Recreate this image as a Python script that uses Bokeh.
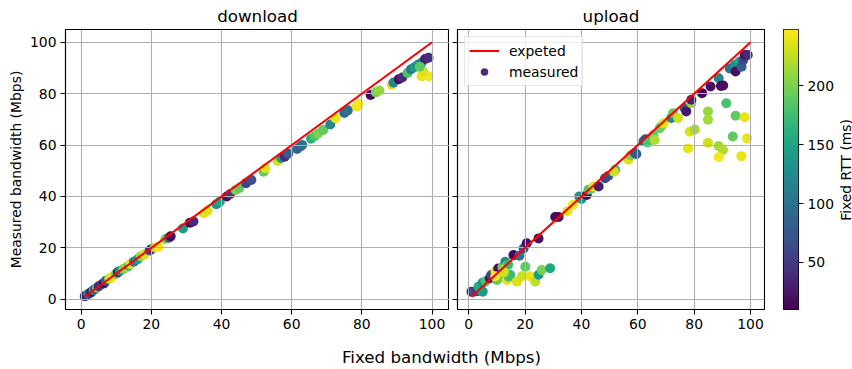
import numpy as np
from bokeh.plotting import figure
from bokeh.models import (Range1d, FixedTicker, LinearColorMapper, ColumnDataSource,
                          Label, Legend, LegendItem)
from bokeh.layouts import row, column
from bokeh.palettes import Viridis256
from bokeh.embed import file_html
from bokeh.resources import INLINE

# ---------------- data ----------------
dl_bandwidth = [1, 1.5, 2, 2.5, 3, 3.5, 4, 4.5, 5, 6, 6.5, 7, 8, 9, 10, 10.5, 11, 12, 13, 13.5,
                14, 15, 16, 17, 18, 19.5, 20, 21, 22, 24, 25, 25.5, 29, 31, 32, 35, 36, 38.5, 39.5, 41.5,
                42.5, 44, 45, 47, 48.5, 52, 52.5, 56, 57, 58, 59, 61.5, 62.5, 63, 65.5, 66.5, 67.5, 69, 71, 72.5,
                75, 76, 78.5, 79, 82.5, 84, 85, 88.5, 89, 90.5, 91.5, 93, 94, 95, 96, 97, 98, 99,
                97, 99, 97.5, 96.5]
dl_measured = [1.2, 1.5, 2.2, 2.4, 3, 3.6, 4, 4.5, 5.1, 6, 6.3, 7.2, 8, 8.9, 10, 10.6, 11, 11.8, 12.6, 13,
               13.8, 14.6, 15.5, 16.8, 17.5, 19, 19.5, 20.2, 20.5, 23.5, 24, 24.5, 27.6, 29.8, 30.3, 33.5, 34.5, 37, 38, 40,
               41, 42.5, 43.2, 45.2, 46.4, 49.6, 51, 53.8, 55, 55.5, 56.6, 58.5, 59.5, 60, 62.5, 63.4, 64.5, 65.9, 68, 70.4,
               72.5, 73.5, 75, 76, 79.5, 80.5, 81.2, 83.5, 84.3, 85.6, 86.3, 88, 89.5, 90.3, 91.2, 92, 93.5, 94,
               86.8, 86.8, 88.5, 90.5]
dl_rtt = [50, 30, 130, 60, 20, 150, 70, 190, 40, 60, 15, 90, 230, 240, 180, 20, 130, 200, 220, 170,
          240, 110, 140, 210, 235, 70, 40, 230, 245, 200, 80, 20, 140, 15, 40, 240, 235, 130, 150, 20,
          50, 200, 190, 60, 70, 190, 235, 230, 140, 40, 80, 90, 80, 100, 160, 180, 200, 190, 120, 240,
          90, 100, 240, 245, 15, 200, 210, 240, 120, 20, 40, 180, 110, 140, 130, 110, 30, 40,
          240, 245, 235, 190]

ul_bandwidth = [1, 2, 3, 4, 5, 3.5, 5, 6, 7.5, 8, 9.5, 10.5, 12, 13, 13.5, 14, 15.9, 18, 19.5, 20.6,
                24.8, 30.7, 31.9, 35, 37, 39.2, 40, 41.9, 42.5, 43.5, 44.3, 46.1, 48.4, 49.5, 52, 51.5, 56.7, 57.5,
                59, 59.5, 62, 62.8, 63.5, 65.5, 66, 67.8, 68.5, 69.2, 71.9, 72.5, 74.3, 76.6, 77.2, 79, 79,
                82.8, 85.8, 88.7, 89.5, 90.3, 92.6, 94.4, 94.7, 96.1, 96.8, 97.4, 98, 99,
                91.4, 84.9, 84.9, 94.7, 97.9, 78.4, 80.2, 93.7, 84.9, 88.7, 90.2, 77.8, 88.7, 98.8, 96.7,
                10, 11.2, 13.6, 14.2, 14.8, 17.1, 18.9, 20.1, 21.8, 23.6, 24.8, 25.9, 28.9, 9.5, 12.5]
ul_measured = [3, 3, 3.2, 3.5, 3, 5, 6.5, 7, 8.2, 9.5, 10.8, 12, 12.5, 14.6, 13, 13.5, 17.2, 17, 19.8, 21.8,
               23.7, 32, 32, 34.3, 36.8, 40, 39, 40.6, 42.6, 43, 43.9, 43.9, 47.1, 48, 50.4, 49.6, 54.3, 56,
               56.9, 56.5, 61.5, 62.3, 61, 63.8, 62, 66.6, 67.5, 68.6, 70.5, 72.4, 70.5, 74.3, 73.1, 76.3, 77.6,
               80.2, 82.8, 86, 83, 83.2, 89.8, 91.1, 88.6, 92.4, 90.5, 93.1, 95, 95,
               76.3, 73.1, 69.9, 71.4, 70.8, 65.2, 66.1, 63.3, 60.9, 59.6, 58.1, 58.7, 55.3, 62.6, 55.7,
               7.5, 8.9, 7.5, 8.8, 9.5, 6.9, 9, 12.7, 9, 6.9, 9.6, 11.4, 12.1, 9, 10.5]
ul_rtt = [40, 70, 50, 120, 140, 160, 130, 180, 20, 60, 240, 20, 200, 120, 240, 170, 15, 100, 70, 20,
          20, 20, 15, 240, 245, 130, 140, 20, 180, 190, 240, 30, 60, 70, 180, 230, 235, 200,
          60, 80, 90, 70, 180, 190, 220, 190, 200, 240, 120, 190, 230, 80, 25, 210, 30,
          15, 20, 120, 15, 20, 100, 130, 20, 150, 80, 60, 20, 40,
          180, 210, 215, 190, 240, 235, 215, 190, 230, 215, 220, 240, 245, 240, 240,
          190, 190, 240, 180, 170, 235, 230, 190, 240, 225, 140, 200, 150, 245, 230]

expected_x = [1, 100]
expected_y = [1, 100]
bw_ticks = [0, 20, 40, 60, 80, 100]
rtt_ticks = [50, 100, 150, 200]
rtt_low, rtt_high = 10, 248

# ---------------- style ----------------
FONT = "DejaVu Sans"
TICK_FS = "13.9px"
TITLE_FS = "16.7px"
mapper = LinearColorMapper(palette=Viridis256, low=rtt_low, high=rtt_high)
y_rng = (-3.95, 104.95)
TOP, FH, BOTTOM = 29, 280, 28
FIG_H = TOP + FH + BOTTOM


def style_axes(p, show_ylabels=True):
    p.outline_line_color = "black"
    p.outline_line_width = 1.1
    p.outline_line_alpha = 1
    for ax in p.axis:
        ax.ticker = FixedTicker(ticks=bw_ticks)
        ax.axis_line_color = "black"
        ax.axis_line_width = 1.1
        ax.major_tick_line_color = "black"
        ax.major_tick_line_width = 1.1
        ax.major_tick_out = 5
        ax.major_tick_in = 0
        ax.minor_tick_line_color = None
        ax.major_label_text_font = FONT
        ax.major_label_text_font_size = TICK_FS
        ax.major_label_text_color = "black"
        ax.major_label_standoff = 4
    if not show_ylabels:
        p.yaxis.major_label_overrides = {t: "" for t in bw_ticks}
        p.yaxis.major_label_standoff = 0
    p.grid.grid_line_color = "#b0b0b0"
    p.grid.grid_line_width = 1.1
    p.grid.level = "underlay"
    p.title.align = "center"
    p.title.text_font = FONT
    p.title.text_font_size = TITLE_FS
    p.title.text_font_style = "normal"
    p.title.text_color = "black"
    p.title.standoff = 7


def panel(title, xr, fw, bl, br, bw, meas, rtt, show_ylabels):
    p = figure(title=title, frame_width=fw, frame_height=FH,
               min_border_left=bl, min_border_right=br, min_border_top=TOP, min_border_bottom=BOTTOM,
               x_range=Range1d(*xr), y_range=Range1d(*y_rng),
               toolbar_location=None, output_backend="svg")
    style_axes(p, show_ylabels)
    src = ColumnDataSource(dict(x=bw, y=meas, rtt=rtt))
    sc = p.scatter(x="x", y="y", source=src, size=10,
                   fill_color={"field": "rtt", "transform": mapper}, line_color=None)
    sc.level = "image"
    ln = p.line(expected_x, expected_y, line_color="red", line_width=2.1)
    return p, sc, ln


p1, _, _ = panel("download", (-4.475, 104.975), 384, 65, 0,
                 dl_bandwidth, dl_measured, dl_rtt, True)
p1.yaxis.axis_label = "Measured bandwidth (Mbps)"
p1.yaxis.axis_label_text_font = FONT
p1.yaxis.axis_label_text_font_size = TICK_FS
p1.yaxis.axis_label_text_font_style = "normal"
p1.yaxis.axis_label_text_color = "black"
p1.yaxis.axis_label_standoff = 3

p2, sc2, ln2 = panel("upload", (-3.95, 104.95), 307, 8, 2,
                     ul_bandwidth, ul_measured, ul_rtt, False)
legend = Legend(items=[LegendItem(label="expeted", renderers=[ln2]),
                       LegendItem(label="measured", renderers=[sc2])],
                location="top_left")
legend.label_text_font = FONT
legend.label_text_font_size = TICK_FS
legend.label_text_color = "black"
legend.border_line_color = "#cccccc"
legend.border_line_width = 1
legend.background_fill_alpha = 0.8
legend.glyph_width = 30
legend.glyph_height = 19
legend.label_height = 19
legend.label_standoff = 10
legend.padding = 4
legend.spacing = 2
legend.margin = 7
p2.add_layout(legend)

# ---------------- colorbar ----------------
cb = figure(frame_width=15, frame_height=FH, min_border_left=17, min_border_right=40,
            min_border_top=TOP, min_border_bottom=BOTTOM,
            x_range=Range1d(0, 1), y_range=Range1d(rtt_low, rtt_high),
            x_axis_location=None, y_axis_location="right",
            toolbar_location=None, output_backend="svg")
grad = np.linspace(rtt_low, rtt_high, 256).reshape(-1, 1)
cb.image(image=[grad], x=0, y=rtt_low, dw=1, dh=rtt_high - rtt_low, color_mapper=mapper)
cb.grid.visible = False
cb.outline_line_color = "black"
cb.outline_line_width = 1.1
cb.outline_line_alpha = 1
ya = cb.yaxis[0]
ya.ticker = FixedTicker(ticks=rtt_ticks)
ya.axis_line_color = None
ya.major_tick_line_color = "black"
ya.major_tick_line_width = 1.1
ya.major_tick_out = 5
ya.major_tick_in = 0
ya.minor_tick_line_color = None
ya.major_label_text_font = FONT
ya.major_label_text_font_size = TICK_FS
ya.major_label_text_color = "black"
ya.major_label_standoff = 4

# rotated colorbar title in its own thin strip
cbl = figure(width=14, height=FIG_H, min_border=0, x_range=Range1d(0, 14), y_range=Range1d(0, FIG_H),
             x_axis_location=None, y_axis_location=None,
             toolbar_location=None, output_backend="svg")
cbl.outline_line_color = None
cbl.grid.visible = False
cbl.add_layout(Label(x=7, y=FIG_H - (TOP + FH / 2), text="Fixed RTT (ms)",
                     angle=np.pi / 2, text_align="center", text_baseline="middle",
                     text_font=FONT, text_font_size=TICK_FS, text_color="black"))

# ---------------- shared x label ----------------
fx = figure(width=852, height=32, min_border=0, x_range=Range1d(0, 852), y_range=Range1d(0, 32),
            x_axis_location=None, y_axis_location=None,
            toolbar_location=None, output_backend="svg")
fx.outline_line_color = None
fx.grid.visible = False
fx.add_layout(Label(x=441, y=13, text="Fixed bandwidth (Mbps)", text_align="center",
                    text_baseline="middle", text_font=FONT, text_font_size=TITLE_FS,
                    text_color="black"))

layout = column(row(p1, p2, cb, cbl), fx)
open("out.html", "w").write(file_html(layout, INLINE))
